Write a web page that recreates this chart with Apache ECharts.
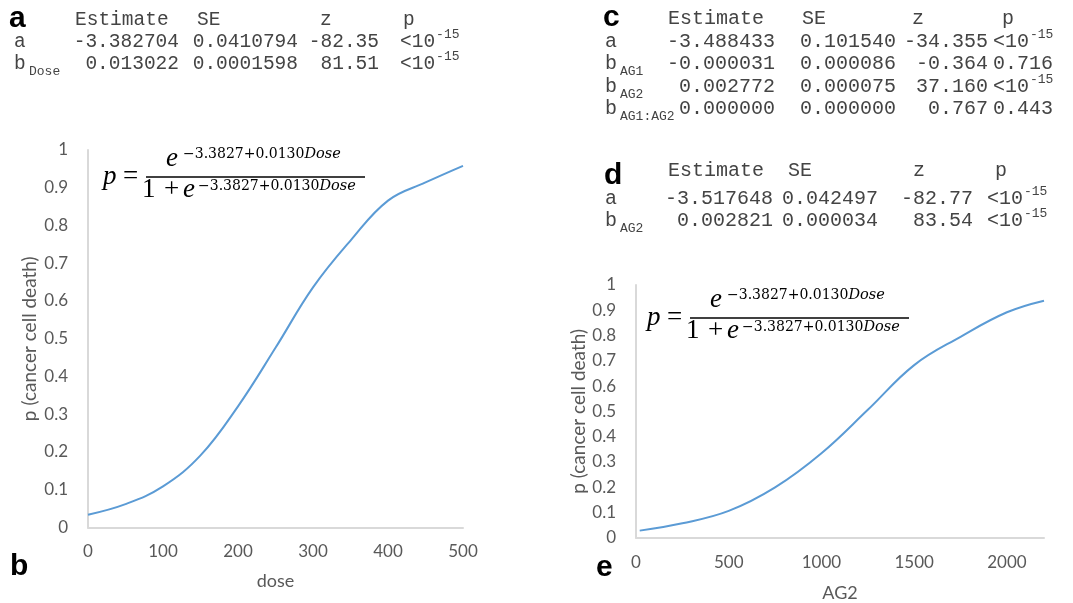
<!DOCTYPE html>
<html>
<head>
<meta charset="utf-8">
<script src="https://cdn.jsdelivr.net/npm/echarts@6/dist/echarts.min.js"></script>
<style>
html, body { margin: 0; padding: 0; background: #fff; }
#main { width: 1073px; height: 603px; }
</style>
</head>
<body>
<div id="main"></div>
<script>
// panel b : fitted p(cancer cell death) against dose
var doseX = [0, 50, 100, 150, 200, 250, 300, 350, 400, 450, 500];
var doseP = [0.034, 0.062, 0.109, 0.191, 0.321, 0.476, 0.636, 0.760, 0.866, 0.914, 0.958];
// panel e : fitted p(cancer cell death) against AG2
var ag2X = [20, 250, 500, 750, 1000, 1250, 1500, 1750, 2000, 2200];
var ag2P = [0.028, 0.057, 0.106, 0.199, 0.334, 0.506, 0.683, 0.795, 0.892, 0.938];

// coefficient tables: label, subscript, estimate, SE, z, p, p exponent
var tableHead = ['Estimate', 'SE', 'z', 'p'];
var rowsA = [
    ['a', '', '-3.382704', '0.0410794', '-82.35', '<10', '-15'],
    ['b', 'Dose', '0.013022', '0.0001598', '81.51', '<10', '-15']
];
var rowsC = [
    ['a', '', '-3.488433', '0.101540', '-34.355', '<10', '-15'],
    ['b', 'AG1', '-0.000031', '0.000086', '-0.364', '0.716', ''],
    ['b', 'AG2', '0.002772', '0.000075', '37.160', '<10', '-15'],
    ['b', 'AG1:AG2', '0.000000', '0.000000', '0.767', '0.443', '']
];
var rowsD = [
    ['a', '', '-3.517648', '0.042497', '-82.77', '<10', '-15'],
    ['b', 'AG2', '0.002821', '0.000034', '83.54', '<10', '-15']
];
var expoNum = '\u22123.3827+0.0130';
var expoVar = 'Dose';

var blue = '#5b9bd5';
var axisGray = '#d9d9d9';
var labelGray = '#595959';
var mono = '"Liberation Mono", "DejaVu Sans Mono", monospace';
var serif = '"Liberation Serif", "DejaVu Serif", serif';
var bold = { family: '"Liberation Sans", Arial, sans-serif', weight: 'bold', fill: '#000' };

// text placed by its alphabetic baseline
function txt(s, x, base, size, o) {
    o = o || {};
    return {
        type: 'text', silent: true,
        x: x, y: base - size * 0.31,
        style: {
            text: s, fontSize: size,
            fontFamily: o.family || mono,
            fontWeight: o.weight || 'normal',
            fontStyle: o.style || 'normal',
            fill: o.fill || '#444',
            align: o.align || 'left',
            verticalAlign: 'middle'
        }
    };
}

function table(rows, L) {
    var els = [];
    els.push(txt(L.letter, L.lx, L.lb, 30, bold));
    tableHead.forEach(function (h, i) {
        els.push(txt(h, L.headX[i], L.headB, L.fs));
    });
    rows.forEach(function (r, k) {
        var b = L.rowB[k];
        els.push(txt(r[0], L.rowX, b, L.fs));
        if (r[1]) els.push(txt(r[1], L.rowX + 15, b + 6, 13));
        for (var c = 0; c < 3; c++) {
            els.push(txt(r[2 + c], L.rightX[c], b, L.fs, { align: 'right' }));
        }
        els.push(txt(r[5], L.pX, b, L.fs));
        if (r[6]) els.push(txt(r[6], L.pX + 1.8 * L.fs + 1, b - 9, 13));
    });
    return els;
}

function formula(dx, dy) {
    var it = { family: serif, style: 'italic', fill: '#000' };
    var rm = { family: serif, fill: '#000' };
    function expo(x, base) {
        return {
            type: 'text', silent: true, x: x, y: base - 14 * 0.31,
            style: {
                text: '{n|' + expoNum + '}{i|' + expoVar + '}',
                verticalAlign: 'middle', fill: '#000',
                rich: {
                    n: { fontFamily: '"DejaVu Serif", serif', fontSize: 14, fill: '#000' },
                    i: { fontFamily: '"DejaVu Serif", serif', fontStyle: 'italic', fontSize: 14.5, fill: '#000' }
                }
            }
        };
    }
    return [
        txt('p', 103 + dx, 185 + dy, 27, it),
        txt('=', 123 + dx, 185 + dy, 27, rm),
        { type: 'line', silent: true, shape: { x1: 146 + dx, y1: 177 + dy, x2: 365 + dx, y2: 177 + dy },
          style: { stroke: '#000', lineWidth: 1.5 } },
        txt('e', 166 + dx, 167 + dy, 27, it),
        expo(183 + dx, 159 + dy),
        txt('1', 142 + dx, 198 + dy, 27, rm),
        txt('+', 164 + dx, 198 + dy, 27, rm),
        txt('e', 183 + dx, 198 + dy, 27, it),
        expo(198 + dx, 191 + dy)
    ];
}

var graphics = []
    .concat(table(rowsA, { letter: 'a', lx: 9, lb: 28, fs: 19.5, rowX: 14, headX: [75, 197, 320, 403], headB: 26,
        rightX: [179, 298, 379], pX: 400, rowB: [48, 70] }))
    .concat(table(rowsC, { letter: 'c', lx: 603, lb: 27, fs: 20, rowX: 605, headX: [668, 802, 912, 1002], headB: 25,
        rightX: [775, 896, 988], pX: 993, rowB: [48, 70, 93, 115] }))
    .concat(table(rowsD, { letter: 'd', lx: 604, lb: 185, fs: 20, rowX: 605, headX: [668, 788, 913, 995], headB: 177,
        rightX: [773, 878, 973], pX: 987, rowB: [205, 227] }))
    .concat(formula(0, 0))
    .concat(formula(544, 141))
    .concat([
        txt('b', 10, 576, 30, bold),
        txt('e', 596, 577, 30, bold)
    ]);

function xAx(gi, max, step, name, gap) {
    return {
        type: 'value', gridIndex: gi, min: 0, max: max, interval: step,
        name: name, nameLocation: 'middle', nameGap: gap,
        nameTextStyle: { fontFamily: 'Lato', fontSize: 18, color: labelGray },
        axisLine: { show: true, lineStyle: { color: axisGray, width: 2 } },
        axisTick: { show: false },
        splitLine: { show: false },
        axisLabel: {
            fontFamily: 'Lato', fontSize: 17, color: labelGray, margin: 16,
            showMaxLabel: max % step === 0,
            formatter: function (v) { return String(v); }
        }
    };
}
function yAx(gi, gap) {
    return {
        type: 'value', gridIndex: gi, min: 0, max: 1, interval: 0.1,
        name: 'p (cancer cell death)', nameLocation: 'middle', nameGap: gap,
        nameTextStyle: { fontFamily: 'Lato', fontSize: 19, color: labelGray },
        axisLine: { show: true, lineStyle: { color: axisGray, width: 2 } },
        axisTick: { show: false },
        splitLine: { show: false },
        axisLabel: { fontFamily: 'Lato', fontSize: 17, color: labelGray, margin: 20 }
    };
}

var chart = echarts.init(document.getElementById('main'), null, { renderer: 'canvas' });
chart.setOption({
    animation: false,
    backgroundColor: '#fff',
    grid: [
        { left: 88, top: 150, width: 375, height: 377.5 },
        { left: 636, top: 285, width: 408, height: 252.7 }
    ],
    xAxis: [xAx(0, 500, 100, 'dose', 45), xAx(1, 2200, 500, 'AG2', 46)],
    yAxis: [yAx(0, 49), yAx(1, 47)],
    series: [
        {
            type: 'line', xAxisIndex: 0, yAxisIndex: 0, smooth: 0.4, showSymbol: false,
            lineStyle: { color: blue, width: 2 },
            data: doseX.map(function (x, i) { return [x, doseP[i]]; })
        },
        {
            type: 'line', xAxisIndex: 1, yAxisIndex: 1, smooth: 0.4, showSymbol: false,
            lineStyle: { color: blue, width: 2 },
            data: ag2X.map(function (x, i) { return [x, ag2P[i]]; })
        }
    ],
    graphic: graphics
});
</script>
</body>
</html>
